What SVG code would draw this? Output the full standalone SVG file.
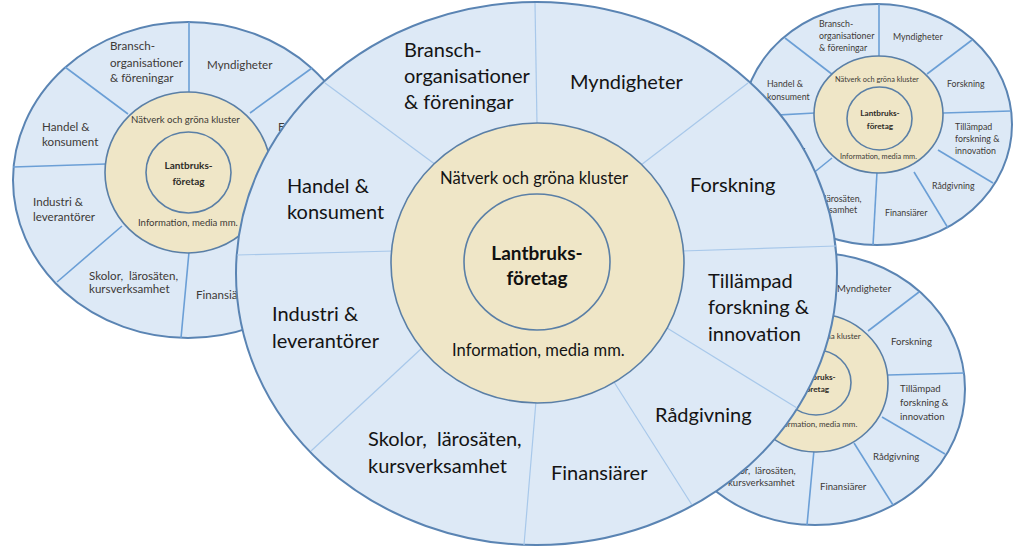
<svg xmlns="http://www.w3.org/2000/svg" width="1018" height="552" viewBox="0 0 1018 552">
<defs>
<style>
.bg{fill:#ffffff}
.outer{fill:#dde9f6;stroke:#5a84b3;stroke-width:2}
.ring{fill:#efe6c7;stroke:#5a7fa6;stroke-width:1.6}
.core{fill:#efe6c7;stroke:#5a7fa6;stroke-width:1.6}
.div-s{stroke:#6b9fd6;stroke-width:1.6;fill:none}
.div-m{stroke:#a8c8ea;stroke-width:1.2;fill:none}
text{font-family:Lato,"Liberation Sans",sans-serif}
.pre{white-space:pre}
.lm{font-size:20px;fill:#141414}
.rm{font-size:16.6px;fill:#141414}
.cm{font-size:19px;font-weight:bold;fill:#111;text-anchor:middle}
.l1{font-size:11.6px;fill:#3d3a36}
.r1{font-size:9.6px;fill:#3d3a36}
.c1{font-size:10px;font-weight:bold;fill:#2e2b27;text-anchor:middle}
.l2{font-size:8.8px;fill:#3d3a36}
.r2{font-size:7.4px;fill:#3d3a36}
.c2{font-size:8.2px;font-weight:bold;fill:#2e2b27;text-anchor:middle}
.l3{font-size:9.6px;fill:#3d3a36}
.r3{font-size:8px;fill:#3d3a36}
</style>
</defs>
<rect class="bg" x="0" y="0" width="1018" height="552"/>

<!-- Top-left small wheel -->
<g id="wheel-top-left">
<ellipse class="outer" cx="188" cy="180" rx="175" ry="158"/>
<g id="tl-dividers">
<line class="div-s" x1="189" y1="22" x2="189" y2="92"/>
<line class="div-s" x1="312" y1="68" x2="250" y2="113"/>
<line class="div-s" x1="65" y1="67" x2="128" y2="114"/>
<line class="div-s" x1="13" y1="167" x2="106" y2="164"/>
<line class="div-s" x1="57" y1="282" x2="122" y2="226"/>
<line class="div-s" x1="189" y1="252" x2="181" y2="338"/>
</g>
<ellipse class="ring" cx="188" cy="172.5" rx="83" ry="80.5"/>
<ellipse class="core" cx="188.5" cy="172.5" rx="42.5" ry="40.5"/>
<text class="l1" x="110" y="50">Bransch-</text>
<text class="l1" x="110" y="67">organisationer</text>
<text class="l1" x="110" y="82">&amp; föreningar</text>
<text class="l1" x="207" y="69">Myndigheter</text>
<text class="l1" x="278" y="131">Forskning</text>
<text class="l1" x="42" y="131">Handel &amp;</text>
<text class="l1" x="42" y="146">konsument</text>
<text class="l1" x="33" y="206">Industri &amp;</text>
<text class="l1" x="33" y="221">leverantörer</text>
<text class="l1 pre" x="89" y="280" xml:space="preserve">Skolor,  lärosäten,</text>
<text class="l1" x="89" y="293">kursverksamhet</text>
<text class="l1" x="196" y="299">Finansiärer</text>
<text class="r1" x="131" y="123">Nätverk och gröna kluster</text>
<text class="c1" x="188.5" y="169">Lantbruks-</text>
<text class="c1" x="188.5" y="185">företag</text>
<text class="r1" x="138" y="226">Information, media mm.</text>
</g>

<!-- Top-right small wheel -->
<g id="wheel-top-right">
<ellipse class="outer" cx="877" cy="124.5" rx="135" ry="120.5"/>
<g id="tr-dividers">
<line class="div-s" x1="879" y1="4" x2="879" y2="58"/>
<line class="div-s" x1="972" y1="40" x2="927" y2="74"/>
<line class="div-s" x1="943" y1="113" x2="1011" y2="111"/>
<line class="div-s" x1="938" y1="150" x2="993" y2="183"/>
<line class="div-s" x1="914" y1="172" x2="948" y2="228"/>
<line class="div-s" x1="877" y1="172" x2="873" y2="245"/>
<line class="div-s" x1="785" y1="38" x2="833" y2="75"/>
<line class="div-s" x1="760" y1="116" x2="815" y2="113"/>
<line class="div-s" x1="780" y1="200" x2="832" y2="158"/>
</g>
<ellipse class="ring" cx="878.5" cy="114.5" rx="64.5" ry="58.5"/>
<ellipse class="core" cx="879.5" cy="118.5" rx="32.5" ry="31.5"/>
<text class="l2" x="819" y="27">Bransch-</text>
<text class="l2" x="819" y="39">organisationer</text>
<text class="l2" x="819" y="51">&amp; föreningar</text>
<text class="l2" x="893" y="40">Myndigheter</text>
<text class="l2" x="767" y="87">Handel &amp;</text>
<text class="l2" x="767" y="100">konsument</text>
<text class="l2" x="947" y="87">Forskning</text>
<text class="l2" x="955" y="130">Tillämpad</text>
<text class="l2" x="955" y="142">forskning &amp;</text>
<text class="l2" x="955" y="154">innovation</text>
<text class="l2" x="758" y="141">Industri &amp;</text>
<text class="l2" x="758" y="153">leverantörer</text>
<text class="l2" x="932" y="189">Rådgivning</text>
<text class="l2" x="885" y="216">Finansiärer</text>
<text class="l2 pre" x="794" y="202" xml:space="preserve">Skolor,  lärosäten,</text>
<text class="l2" x="796" y="213">kursverksamhet</text>
<text class="r2" x="835" y="82">Nätverk och gröna kluster</text>
<text class="c2" x="880" y="116">Lantbruks-</text>
<text class="c2" x="880" y="129">företag</text>
<text class="r2" x="840" y="159">Information, media mm.</text>
</g>

<!-- Bottom-right small wheel -->
<g id="wheel-bottom-right">
<ellipse class="outer" cx="815" cy="389" rx="150" ry="136"/>
<g id="br-dividers">
<line class="div-s" x1="919" y1="292" x2="868" y2="331"/>
<line class="div-s" x1="888" y1="375" x2="964" y2="373"/>
<line class="div-s" x1="882" y1="417" x2="945" y2="454"/>
<line class="div-s" x1="854" y1="443" x2="893" y2="505"/>
<line class="div-s" x1="814" y1="450" x2="807" y2="525"/>
</g>
<ellipse class="ring" cx="816" cy="383" rx="72" ry="69"/>
<ellipse class="core" cx="816" cy="382.5" rx="35" ry="32.5"/>
<text class="l3" x="837" y="292">Myndigheter</text>
<text class="l3" x="891" y="345">Forskning</text>
<text class="l3" x="900" y="392">Tillämpad</text>
<text class="l3" x="900" y="406">forskning &amp;</text>
<text class="l3" x="900" y="420">innovation</text>
<text class="l3" x="873" y="460">Rådgivning</text>
<text class="l3" x="820" y="490">Finansiärer</text>
<text class="l3 pre" x="722" y="474" xml:space="preserve">Skolor,  lärosäten,</text>
<text class="l3" x="728" y="486">kursverksamhet</text>
<text class="r3" x="770" y="339">Nätverk och gröna kluster</text>
<text class="c2" x="816" y="380">Lantbruks-</text>
<text class="c2" x="816" y="392">företag</text>
<text class="r3" x="774" y="427">Information, media mm.</text>
</g>

<!-- Main wheel -->
<g id="wheel-main">
<ellipse class="outer" cx="536.5" cy="273.5" rx="300.5" ry="271.5"/>
<g id="main-dividers">
<line class="div-m" x1="325" y1="83" x2="436" y2="165"/>
<line class="div-m" x1="535" y1="3" x2="537" y2="125"/>
<line class="div-m" x1="748" y1="83" x2="641" y2="165"/>
<line class="div-m" x1="682" y1="251" x2="836" y2="246"/>
<line class="div-m" x1="667" y1="328" x2="797" y2="408"/>
<line class="div-m" x1="614" y1="382" x2="692" y2="505"/>
<line class="div-m" x1="536" y1="401" x2="524" y2="545"/>
<line class="div-m" x1="422" y1="348" x2="311" y2="451"/>
<line class="div-m" x1="394" y1="251" x2="237" y2="255"/>
</g>
<ellipse class="ring" cx="537.5" cy="263" rx="146.5" ry="140"/>
<ellipse class="core" cx="537" cy="262" rx="73" ry="68"/>
<g id="main-labels">
<text class="lm" x="404" y="57">Bransch-</text>
<text class="lm" x="404" y="83">organisationer</text>
<text class="lm" x="404" y="109">&amp; föreningar</text>
<text class="lm" x="570" y="89">Myndigheter</text>
<text class="lm" x="287" y="193">Handel &amp;</text>
<text class="lm" x="287" y="219">konsument</text>
<text class="lm" x="690" y="192">Forskning</text>
<text class="lm" x="708" y="288">Tillämpad</text>
<text class="lm" x="708" y="314">forskning &amp;</text>
<text class="lm" x="708" y="341">innovation</text>
<text class="lm" x="272" y="321">Industri &amp;</text>
<text class="lm" x="272" y="348">leverantörer</text>
<text class="lm" x="655" y="422">Rådgivning</text>
<text class="lm pre" x="368" y="446" xml:space="preserve">Skolor,  lärosäten,</text>
<text class="lm" x="368" y="473">kursverksamhet</text>
<text class="lm" x="551" y="480">Finansiärer</text>
<text class="rm" x="440" y="184">Nätverk och gröna kluster</text>
<text class="cm" x="537" y="260">Lantbruks-</text>
<text class="cm" x="537" y="285">företag</text>
<text class="rm" x="452" y="356">Information, media mm.</text>
</g>
</g>
</svg>
